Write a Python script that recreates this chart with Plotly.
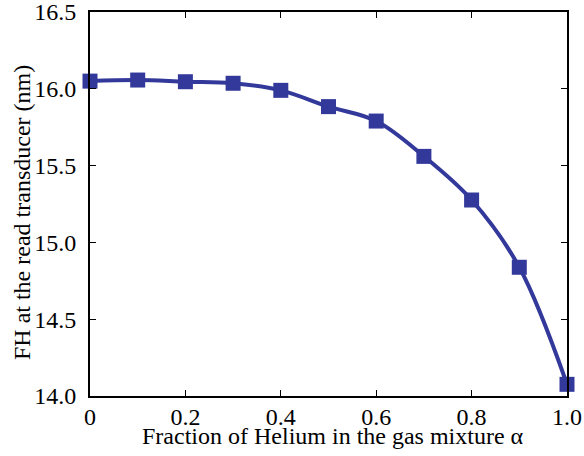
import plotly.graph_objects as go

alpha = [0.0, 0.1, 0.2, 0.3, 0.4, 0.5, 0.6, 0.7, 0.8, 0.9, 1.0]
fh = [16.05, 16.057, 16.046, 16.036, 15.99, 15.884, 15.79, 15.56, 15.276, 14.838, 14.076]

x_tickvals = [0, 0.2, 0.4, 0.6, 0.8, 1.0]
x_ticktext = ["0", "0.2", "0.4", "0.6", "0.8", "1.0"]
y_tickvals = [14.0, 14.5, 15.0, 15.5, 16.0, 16.5]
y_ticktext = ["14.0", "14.5", "15.0", "15.5", "16.0", "16.5"]
x_title = "Fraction of Helium in the gas mixture α"
y_title = "FH at the read transducer (nm)"

color = "#33399a"
serif = "Liberation Serif, Times New Roman, Times, serif"

fig = go.Figure()
fig.add_trace(go.Scatter(
    x=alpha, y=fh, mode="lines+markers",
    line=dict(color=color, width=4, shape="spline", smoothing=1.0),
    marker=dict(symbol="square", size=15, color=color),
    cliponaxis=False,
))

axis_common = dict(
    showgrid=False, zeroline=False, showline=True, linecolor="black", linewidth=2,
    mirror="ticks", ticks="inside", ticklen=6, tickwidth=1, tickcolor="black",
    ticklabeloverflow="allow", automargin=False,
    tickfont=dict(family=serif, size=24, color="black"),
)

fig.update_layout(
    width=584, height=456,
    margin=dict(l=90, r=17, t=12, b=60),
    paper_bgcolor="white", plot_bgcolor="white",
    showlegend=False,
    font=dict(family=serif, size=24, color="black"),
    xaxis=dict(range=[0, 1], tickvals=x_tickvals, ticktext=x_ticktext,
               ticklabelstandoff=-2, **axis_common),
    yaxis=dict(range=[14.0, 16.5], tickvals=y_tickvals, ticktext=y_ticktext,
               ticklabelstandoff=7, **axis_common),
    annotations=[
        dict(text=x_title, xref="paper", yref="paper", x=0.51, y=-0.104,
             xanchor="center", yanchor="middle", showarrow=False,
             font=dict(family=serif, size=24, color="black")),
        dict(text=y_title, xref="paper", yref="paper", x=-0.1426, y=0.479,
             xanchor="center", yanchor="middle", showarrow=False, textangle=-90,
             font=dict(family=serif, size=24, color="black")),
    ],
)

fig.write_html("out.html", config={"displayModeBar": False},
               post_script="document.body.style.margin='0';")
